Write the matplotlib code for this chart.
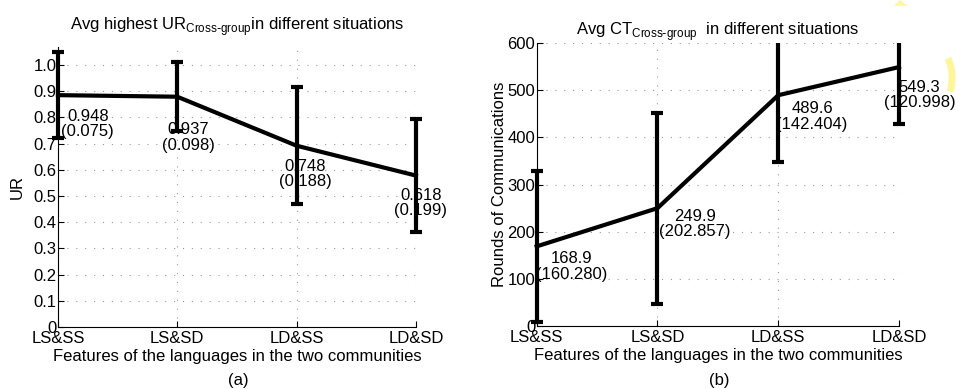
import matplotlib.pyplot as plt
from matplotlib.patches import Polygon, Arc, Rectangle

categories = ["LS&SS", "LS&SD", "LD&SS", "LD&SD"]

# (a) highest UR, as drawn
ur_mean = [0.885, 0.879, 0.692, 0.578]
ur_err = [0.163, 0.131, 0.223, 0.217]
ur_text = ["0.948\n(0.075)", "0.937\n(0.098)", "0.748\n(0.188)", "0.618\n(0.199)"]
ur_text_xy = [(1.25, 0.775), (2.09, 0.723), (3.07, 0.584), (4.04, 0.473)]

# (b) rounds of communications
ct_mean = [168.9, 249.9, 489.6, 549.3]
ct_err = [160.280, 202.857, 142.404, 120.998]
ct_text = ["168.9\n(160.280)", "249.9\n(202.857)", "489.6\n(142.404)", "549.3\n(120.998)"]
ct_text_xy = [(1.29, 126), (2.31, 216), (3.28, 445), (4.17, 490)]

plt.rcParams["font.family"] = ["Liberation Sans", "DejaVu Sans"]
plt.rcParams["font.size"] = 12

fig = plt.figure(figsize=(9.74, 3.89), dpi=100)
ax1 = fig.add_axes([0.0595, 0.1594, 0.3675, 0.7206])
ax2 = fig.add_axes([0.551, 0.162, 0.372, 0.727])

x = list(range(1, len(categories) + 1))


def style(ax):
    ax.set_xlim(1, 4)
    ax.set_xticks(x)
    ax.set_xticklabels(categories)
    for s in ["top", "right"]:
        ax.spines[s].set_visible(False)
    ax.tick_params(axis="x", direction="in", length=4, pad=3)
    ax.tick_params(axis="y", direction="in", length=4, pad=1)
    ax.grid(True, color="#999999", linestyle=(0, (1, 7)), linewidth=0.8)
    ax.set_axisbelow(True)
    ax.set_xlabel("Features of the languages in the two communities", labelpad=2)


ax1.errorbar(x, ur_mean, yerr=ur_err, color="black", lw=3, elinewidth=3,
             capsize=4, capthick=3, clip_on=False, zorder=3)
style(ax1)
ax1.set_ylim(0, 1.07)
ax1.set_yticks([i / 10 for i in range(11)])
ax1.set_yticklabels(["0"] + ["%.1f" % (i / 10) for i in range(1, 11)])
ax1.set_ylabel("UR", labelpad=6)
ax1.set_title(r"Avg highest UR$_{\mathregular{Cross\text{-}group}}$in different situations",
              fontsize=12, pad=12)
for t, (tx, ty) in zip(ur_text, ur_text_xy):
    ax1.text(tx, ty, t, ha="center", va="center", linespacing=1.05, zorder=4)

eb = ax2.errorbar(x, ct_mean, yerr=ct_err, color="black", lw=3, elinewidth=3,
                  capsize=4, capthick=3, zorder=3)
clip = Rectangle((-0.05, 0), 1.1, 1, transform=ax2.transAxes, visible=False)
ax2.add_patch(clip)
for art in [eb.lines[0]] + list(eb.lines[1]) + list(eb.lines[2]):
    art.set_clip_path(clip)
style(ax2)
ax2.set_ylim(0, 600)
ax2.set_yticks(range(0, 601, 100))
ax2.set_ylabel("Rounds of Communications", labelpad=0)
ax2.set_title(r"Avg CT$_{\mathregular{Cross\text{-}group}}$  in different situations",
              fontsize=12, pad=6)
for t, (tx, ty) in zip(ct_text, ct_text_xy):
    ax2.text(tx, ty, t, ha="center", va="center", linespacing=1.05, zorder=4)

fig.text(0.245, 0.01, "(a)", ha="center", fontsize=12)
fig.text(0.738, 0.01, "(b)", ha="center", fontsize=12)

# yellow highlight marks in the top-right corner
fig.patches.append(Polygon([[0.918, 0.985], [0.932, 0.985], [0.924, 1.0]],
                           closed=True, transform=fig.transFigure,
                           facecolor="#fff7a0", edgecolor="none"))
fig.patches.append(Arc((0.955, 0.80), 0.045, 0.17, theta1=-60, theta2=70,
                       transform=fig.transFigure, color="#fff59a", lw=5))

fig.savefig("out.png", dpi=100)
